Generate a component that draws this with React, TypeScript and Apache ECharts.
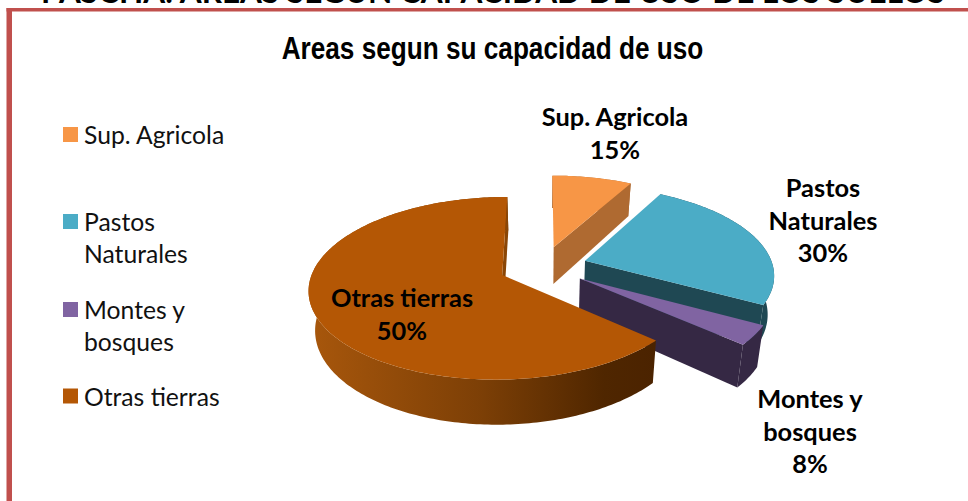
import React, { useEffect, useRef } from "react";
import * as echarts from "echarts";

const categories = ["Sup. Agricola", "Pastos Naturales", "Montes y bosques", "Otras tierras"];
const labelPercents = [15, 30, 8, 50];
// Share of the circle each slice occupies in the picture.
const drawnShares = [8, 25, 3.5, 63.5];

const legendLines = ["Sup. Agricola", "\nPastos\nNaturales", "\nMontes y\nbosques", "Otras tierras"];
const labelLines = [
  ["Sup. Agricola"],
  ["Pastos", "Naturales"],
  ["Montes y", "bosques"],
  ["Otras tierras"],
];

const mainTitle = "Areas segun su capacidad de uso";
const pageHeading = "PASCHA: AREAS SEGUN CAPACIDAD DE USO DE LOS SUELOS";

const TOP = ["#F79646", "#4BACC6", "#8064A2", "#B45705"];
const WALL = ["#AF6A31", "#1F4853", "#352844", "#4B2300"];
const CUT_FACE = ["#AF6A31", "#1F4853", "#352844", "#8A4606"];
const LABEL_POS = [
  [615, 116],
  [823, 187],
  [810, 398],
  [402, 297],
];
const LEGEND_Y = [134.5, 221.5, 309.5, 396];
const LEGEND_LINES = [1, 3, 3, 1];

const CX = 543;
const CY = 266.5;
const SX = 188;
const SY = 87;
const PERSP = 1 / 7;
const EXPLODE = 0.235;
const DEPTH = 38;
const DEPTH_SHRINK = 0.972;

function project(X: number, Y: number) {
  const d = 1 + PERSP * Y;
  return [CX + (SX * X) / d, CY - (SY * Y) / d, DEPTH / d];
}

function renderSlice(index: number) {
  return (_params: any, api: any) => {
    const share = api.value(0);
    const before = api.value(1);
    const a0 = (before / 100) * Math.PI * 2;
    const a1 = ((before + share) / 100) * Math.PI * 2;
    const mid = (a0 + a1) / 2;
    const ox = Math.sin(mid) * EXPLODE;
    const oy = Math.cos(mid) * EXPLODE;
    const apex = project(ox, oy);
    const steps = Math.max(4, Math.round(((a1 - a0) * 180) / Math.PI));
    const rim: number[][] = [];
    for (let i = 0; i <= steps; i++) {
      const a = a0 + ((a1 - a0) * i) / steps;
      rim.push(project(ox + Math.sin(a), oy + Math.cos(a)));
    }
    const last = rim[rim.length - 1];
    const flat = (p: number[]) => [p[0], p[1]];
    const down = (p: number[]) => [CX + (p[0] - CX) * DEPTH_SHRINK, p[1] + p[2]];
    const children: any[] = [];
    const isBig = index === 3;
    // outer wall
    children.push({
      type: "polygon",
      shape: { points: [...rim.map(flat), ...rim.slice().reverse().map(down)] },
      style: {
        fill: isBig
          ? new echarts.graphic.LinearGradient(0, 0, 1, 0, [
              { offset: 0, color: "#A8570C" },
              { offset: 0.5, color: "#7C3F06" },
              { offset: 0.85, color: "#4F2600" },
              { offset: 1, color: "#4B2300" },
            ])
          : WALL[index],
      },
    });
    // cut face at the clockwise end of the slice
    children.push({
      type: "polygon",
      shape: { points: [flat(apex), flat(last), down(last), down(apex)] },
      style: { fill: CUT_FACE[index] },
    });
    // top face
    children.push({
      type: "polygon",
      shape: { points: [flat(apex), ...rim.map(flat)] },
      style: { fill: TOP[index] },
    });
    // data label
    const lines = [...labelLines[index], labelPercents[index] + "%"];
    children.push({
      type: "text",
      style: {
        text: lines.join("\n"),
        x: LABEL_POS[index][0],
        y: LABEL_POS[index][1] - 16,
        align: "center",
        verticalAlign: "top",
        fill: "#000",
        font: "bold 25.4px Lato",
        lineHeight: 32.5,
      },
    });
    return { type: "group", children };
  };
}

export default function App() {
  const ref = useRef<HTMLDivElement>(null);
  useEffect(() => {
    document.body.style.margin = "0";
    document.body.style.background = "#fff";
    const chart = echarts.init(ref.current!, null, { renderer: "svg" });
    let cumulative = 0;
    const series = categories.map((name, i) => {
      const s = {
        type: "custom",
        name,
        coordinateSystem: "none",
        clip: false,
        silent: true,
        itemStyle: { color: TOP[i] },
        data: [[drawnShares[i], cumulative]],
        renderItem: renderSlice(i),
      };
      cumulative += drawnShares[i];
      return s;
    });
    chart.setOption({
      animation: false,
      backgroundColor: "#fff",
      legend: categories.map((name, i) => ({
        data: [{ name, icon: "rect" }],
        left: 63,
        top: LEGEND_Y[i] - (LEGEND_LINES[i] * 32) / 2,
        padding: 0,
        itemWidth: 15,
        itemHeight: 15,
        selectedMode: false,
        orient: "vertical",
        formatter: () => legendLines[i],
        textStyle: {
          fontFamily: "Lato",
          fontSize: 24.7,
          lineHeight: 32,
          color: "#111",
          padding: [0, 0, 0, 1],
        },
      })),
      graphic: [
        {
          type: "rect",
          shape: { x: 6.5, y: 8, width: 962, height: 3.5 },
          style: { fill: "#C0504D" },
          silent: true,
        },
        {
          type: "rect",
          shape: { x: 6.5, y: 8, width: 5.5, height: 493 },
          style: { fill: "#C0504D" },
          silent: true,
        },
        {
          type: "text",
          x: 493,
          y: -25,
          style: {
            text: pageHeading,
            align: "center",
            verticalAlign: "top",
            fill: "#000",
            font: "bold 31.5px Lato",
          },
          silent: true,
        },
        {
          type: "text",
          x: 492.5,
          y: 32.5,
          scaleX: 0.858,
          style: {
            text: mainTitle,
            align: "center",
            verticalAlign: "top",
            fill: "#000",
            font: 'bold 30.5px "Liberation Sans"',
          },
          silent: true,
        },
      ],
      series,
    });
    return () => chart.dispose();
  }, []);
  return <div ref={ref} style={{ width: 968, height: 501 }} />;
}
